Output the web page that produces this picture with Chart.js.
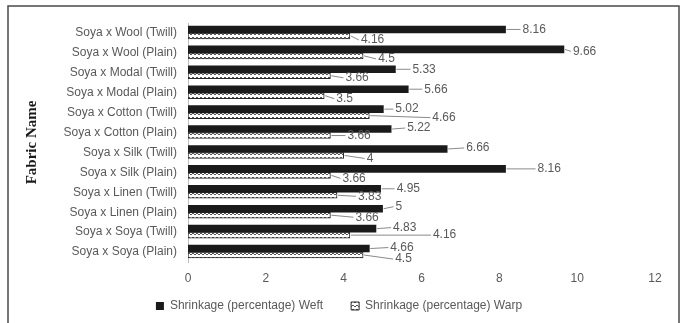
<!DOCTYPE html>
<html>
<head>
<meta charset="utf-8">
<script src="https://cdn.jsdelivr.net/npm/chart.js@4/dist/chart.umd.min.js"></script>
<style>
  html, body { margin: 0; padding: 0; background: #fff; }
  #wrap { width: 684px; height: 323px; position: relative; }
</style>
</head>
<body>
<div id="wrap"><canvas id="c" width="684" height="323"></canvas></div>
<script>
const categories = [
  "Soya x Wool (Twill)", "Soya x Wool (Plain)",
  "Soya x Modal (Twill)", "Soya x Modal (Plain)",
  "Soya x Cotton (Twill)", "Soya x Cotton (Plain)",
  "Soya x Silk (Twill)", "Soya x Silk (Plain)",
  "Soya x Linen (Twill)", "Soya x Linen (Plain)",
  "Soya x Soya (Twill)", "Soya x Soya (Plain)"
];
const weftValues = [8.16, 9.66, 5.33, 5.66, 5.02, 5.22, 6.66, 8.16, 4.95, 5, 4.83, 4.66];
const warpValues = [4.16, 4.5, 3.66, 3.5, 4.66, 3.66, 4, 3.66, 3.83, 3.66, 4.16, 4.5];
const xTicks = [0, 2, 4, 6, 8, 10, 12];
const seriesNames = ["Shrinkage (percentage) Weft", "Shrinkage (percentage) Warp"];
const axisTitle = "Fabric Name";

// label placement (pixel offsets of each data label from its bar end)
const weftLabelDx = [17, 9, 17, 16, 12, 16, 19, 32, 16, 13, 17, 21];
const weftLabelDy = [0, 2, 0, 0, 0, -1, -1, 0, 0, -2, -1, -1];
const warpLabelDx = [11, 15, 15, 12, 63, 17, 23, 12, 21, 25, 83, 32];
const warpLabelDy = [4, 3, 2, 3, 2, 0, 3, 3, 1, 2, 0, 4];

function makePattern() {
  const p = document.createElement('canvas');
  p.width = 4; p.height = 4;
  const g = p.getContext('2d');
  g.fillStyle = '#ffffff'; g.fillRect(0, 0, 4, 4);
  g.fillStyle = '#555555';
  g.fillRect(0, 1, 2, 1); g.fillRect(2, 2, 2, 1);
  return document.getElementById('c').getContext('2d').createPattern(p, 'repeat');
}
const warpPattern = makePattern();

const framePlugin = {
  id: 'frame',
  beforeDraw(chart) {
    const ctx = chart.ctx;
    ctx.save();
    ctx.fillStyle = '#ffffff';
    ctx.fillRect(0, 0, chart.width, chart.height);
    ctx.strokeStyle = '#4a4a4a';
    ctx.lineWidth = 1.5;
    ctx.strokeRect(8, 6, 671, 340);
    ctx.restore();
  }
};

// move the legend up so that its items sit just under the x-axis labels
const legendShift = {
  id: 'legendShift',
  afterLayout(chart) {
    const l = chart.legend;
    if (!l) return;
    l.top = chart.chartArea.bottom + 10;
    l.bottom = chart.height;
    l.height = l.bottom - l.top;
  }
};

const labelPlugin = {
  id: 'barLabels',
  afterDatasetsDraw(chart) {
    const ctx = chart.ctx;
    ctx.save();
    ctx.font = '12px "Liberation Sans", Arial, sans-serif';
    ctx.textBaseline = 'middle';
    ctx.textAlign = 'left';
    const specs = [[weftLabelDx, weftLabelDy], [warpLabelDx, warpLabelDy]];
    chart.data.datasets.forEach((ds, di) => {
      const meta = chart.getDatasetMeta(di);
      meta.data.forEach((el, i) => {
        const tx = el.x + specs[di][0][i];
        const ty = el.y + specs[di][1][i];
        ctx.strokeStyle = '#8a8a8a';
        ctx.lineWidth = 1;
        ctx.beginPath();
        ctx.moveTo(el.x + 1, el.y);
        ctx.lineTo(tx - 2, ty);
        ctx.stroke();
        ctx.fillStyle = '#595959';
        ctx.fillText(String(ds.data[i]), tx, ty);
      });
    });
    ctx.restore();
  }
};

new Chart(document.getElementById('c'), {
  type: 'bar',
  data: {
    labels: categories,
    datasets: [
      {
        label: seriesNames[0],
        data: weftValues,
        backgroundColor: '#1a1a1a',
        borderColor: '#1a1a1a',
        borderWidth: 0,
        barThickness: 7
      },
      {
        label: seriesNames[1],
        data: warpValues,
        backgroundColor: warpPattern,
        borderColor: '#2a2a2a',
        borderWidth: 1,
        borderSkipped: false,
        barThickness: 6
      }
    ]
  },
  options: {
    indexAxis: 'y',
    responsive: false,
    animation: false,
    layout: { padding: { top: 23, left: 23, right: 29, bottom: 0 } },
    plugins: {
      legend: {
        position: 'bottom',
        maxHeight: 31,
        labels: {
          boxWidth: 8,
          boxHeight: 8,
          padding: 28,
          color: '#595959',
          font: { family: '"Liberation Sans", Arial, sans-serif', size: 12 }
        }
      },
      tooltip: { enabled: false }
    },
    scales: {
      x: {
        min: 0, max: 12,
        afterBuildTicks(scale) { scale.ticks = xTicks.map(v => ({ value: v })); },
        afterFit(scale) { scale.height = 30; },
        grid: { display: false, drawTicks: false },
        border: { display: false },
        ticks: {
          padding: 9,
          color: '#595959',
          font: { family: '"Liberation Sans", Arial, sans-serif', size: 12 }
        }
      },
      y: {
        afterFit(scale) { scale.width = 165; },
        grid: { display: false, drawTicks: false },
        border: { display: true, color: '#bfbfbf', width: 1 },
        ticks: {
          padding: 11,
          color: '#595959',
          autoSkip: false,
          font: { family: '"Liberation Sans", Arial, sans-serif', size: 12 }
        },
        title: {
          display: true,
          text: axisTitle,
          color: '#1a1a1a',
          padding: { top: 0, bottom: 0 },
          font: { family: '"Liberation Serif", "Times New Roman", serif', size: 15, weight: 'bold' }
        }
      }
    }
  },
  plugins: [framePlugin, legendShift, labelPlugin]
});
</script>
</body>
</html>
